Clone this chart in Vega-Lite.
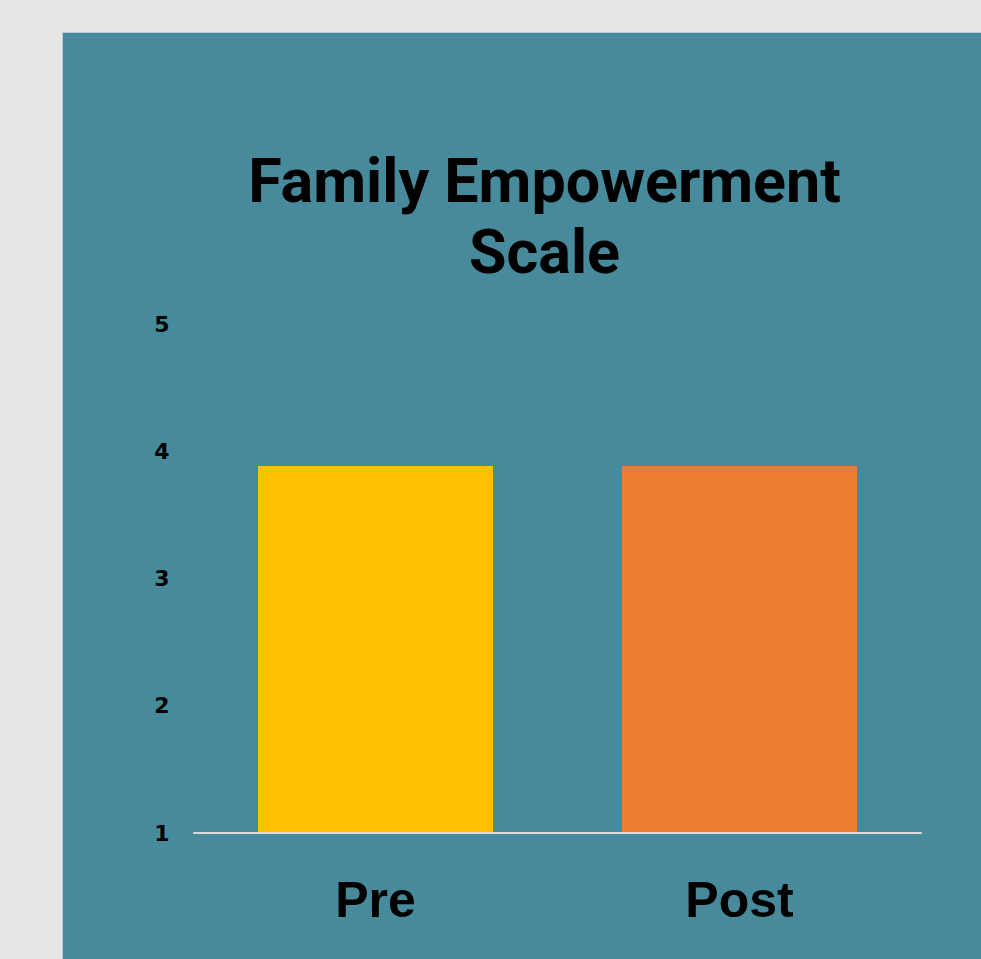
{
  "$schema": "https://vega.github.io/schema/vega-lite/v6.json",
  "autosize": "none",
  "width": 919,
  "height": 927,
  "padding": {"left": 62, "top": 32, "right": 0, "bottom": 0},
  "background": "#e6e6e6",
  "config": {
    "view": {"fill": "#468A9C", "stroke": "#b9cdd2", "strokeWidth": 1}
  },
  "title": {
    "text": ["Family Empowerment", "Scale"],
    "font": "Roboto",
    "fontWeight": "bold",
    "fontSize": 61,
    "lineHeight": 71,
    "color": "#000000",
    "anchor": "middle",
    "baseline": "alphabetic",
    "dx": 23,
    "dy": 127,
    "offset": -175
  },
  "data": {
    "values": [
      {"period": "Pre", "score": 3.89},
      {"period": "Post", "score": 3.89}
    ]
  },
  "encoding": {
    "x": {
      "field": "period",
      "type": "nominal",
      "sort": ["Pre", "Post"],
      "scale": {"paddingInner": 0.3544, "paddingOuter": 0.43956, "align": 0.6125},
      "axis": {
        "title": null,
        "orient": "bottom",
        "domain": false,
        "ticks": false,
        "labelAngle": 0,
        "labelPadding": 0,
        "labelBaseline": "alphabetic",
        "offset": -43,
        "labelFont": "Liberation Sans",
        "labelFontWeight": "bold",
        "labelFontSize": 50,
        "labelColor": "#000000"
      }
    }
  },
  "layer": [
    {
      "mark": {"type": "bar"},
      "encoding": {
        "y": {
          "field": "score",
          "type": "quantitative",
          "scale": {"domain": [0.0079, 7.307], "nice": false, "zero": false},
          "axis": {
            "title": null,
            "values": [1, 2, 3, 4, 5],
            "format": "d",
            "grid": false,
            "domain": false,
            "ticks": false,
            "labelPadding": 0,
            "offset": -107,
            "labelFont": "DejaVu Sans",
            "labelFontWeight": "bold",
            "labelFontSize": 22,
            "labelColor": "#000000"
          }
        },
        "y2": {"datum": 1},
        "color": {
          "field": "period",
          "type": "nominal",
          "scale": {"domain": ["Pre", "Post"], "range": ["#FFC000", "#ED7D31"]},
          "legend": null
        }
      }
    },
    {
      "mark": {"type": "rule", "color": "#d9d9d9", "strokeWidth": 2},
      "encoding": {
        "x": {"datum": "Pre", "bandPosition": -0.2745},
        "x2": {"datum": "Post", "bandPosition": 1.2745},
        "y": {"datum": 1}
      }
    }
  ]
}
